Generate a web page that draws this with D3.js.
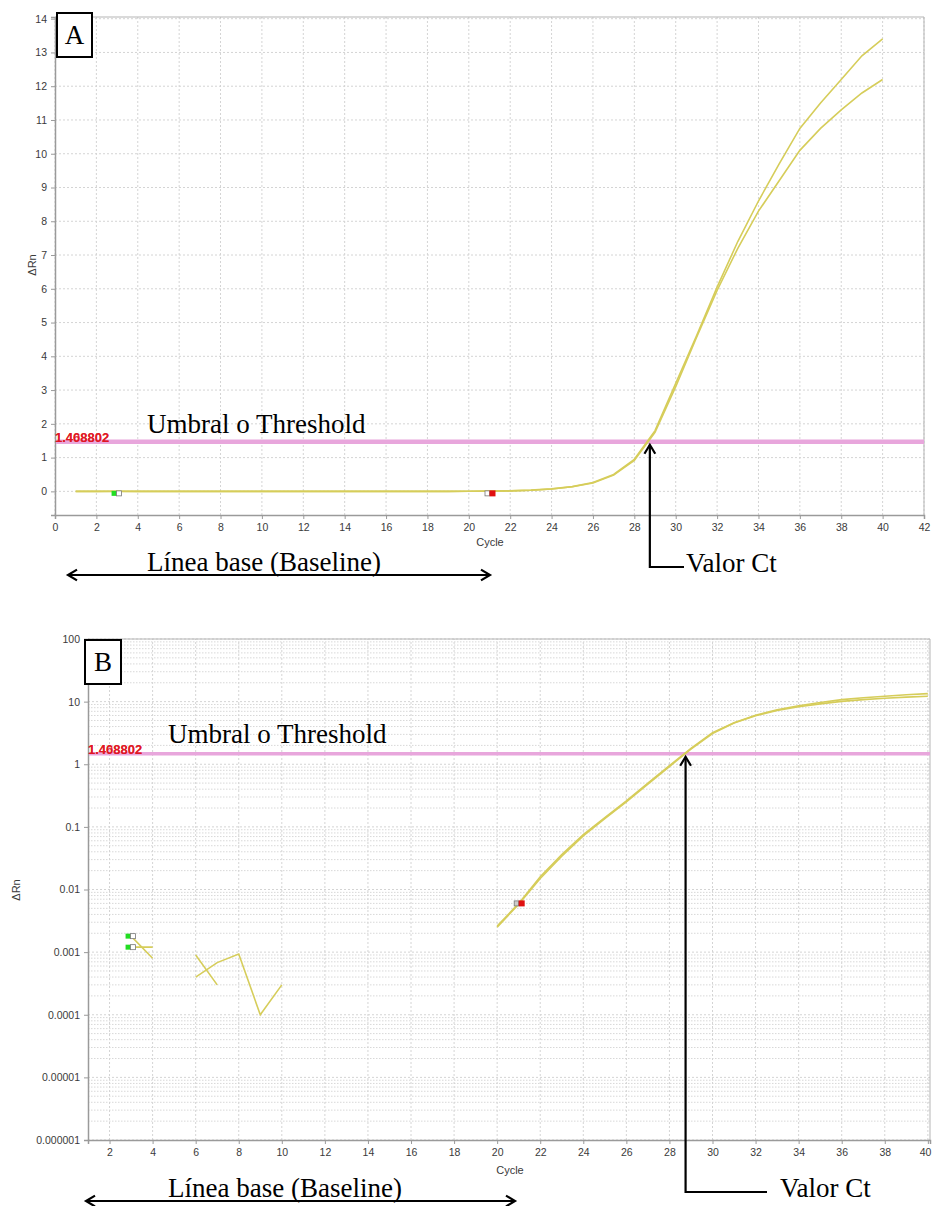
<!DOCTYPE html>
<html>
<head>
<meta charset="utf-8">
<script src="https://cdn.jsdelivr.net/npm/d3@7"></script>
<style>
  html, body { margin: 0; padding: 0; background: #fff; }
  svg { display: block; }
</style>
</head>
<body>
<svg id="chart" width="932" height="1206"></svg>
<script>
// ---------- DATA ----------
const cycles = d3.range(1, 41);
// ΔRn per cycle, well 1 (upper plateau) and well 2 (lower plateau)
const well1 = [-0.0005, -0.0003, 0.0018, 0.0008, -0.0004, 0.0009, 0.0003, -0.0002, -0.0006, -0.0003,
               -0.0004, -0.0002, -0.0005, -0.0003, -0.0002, -0.0004, -0.0003, -0.0002, -0.0001, 0.0026,
               0.006, 0.016, 0.036, 0.075, 0.14, 0.26, 0.5, 0.95, 1.8, 3.2,
               4.6, 6.05, 7.4, 8.6, 9.7, 10.75, 11.5, 12.2, 12.9, 13.4];
const well2 = [-0.0004, -0.0006, 0.0012, 0.0012, -0.0002, 0.0004, 0.00068, 0.00093, 0.0001, 0.0003,
               -0.0003, -0.0004, -0.0002, -0.0005, -0.0003, -0.0002, -0.0004, -0.0003, -0.0001, 0.0025,
               0.0058, 0.015, 0.034, 0.072, 0.135, 0.25, 0.48, 0.92, 1.75, 3.1,
               4.55, 5.95, 7.2, 8.3, 9.2, 10.1, 10.75, 11.3, 11.8, 12.2];
const threshold = 1.468802;
const thresholdLabels = ["1.468802", "1.408802"];
const baselineStart = 3;
const baselineEnd = 21;
const ctValue = 28.75;
const xTicksA = d3.range(0, 43, 2);
const yTicksA = d3.range(0, 15, 1);
const xTicksB = d3.range(2, 41, 2);
const yTicksB = [100, 10, 1, 0.1, 0.01, 0.001, 0.0001, 0.00001, 0.000001];
const yTickLabelsB = ["100", "10", "1", "0.1", "0.01", "0.001", "0.0001", "0.00001", "0.000001"];

// ---------- STYLE ----------
const curveColor = "#d6cd5a";
const threshColor = "#e8a6dc";
const gridColor = "#d4d4d4";
const axisColor = "#9a9a9a";
const tickText = "#3a3a3a";
const serif = "'Liberation Serif', 'Times New Roman', serif";
const sans = "'Liberation Sans', Arial, sans-serif";
const annotSize = 27;

const svg = d3.select("#chart");
const series = [well1, well2].map(v => cycles.map((c, i) => ({c, v: v[i]})));

function arrowHead(g, x, y, dir) {
  const s = 9;
  let d;
  if (dir === "left") d = `M${x + s},${y - s * 0.6} L${x},${y} L${x + s},${y + s * 0.6}`;
  if (dir === "right") d = `M${x - s},${y - s * 0.6} L${x},${y} L${x - s},${y + s * 0.6}`;
  if (dir === "up") d = `M${x - s * 0.6},${y + s} L${x},${y} L${x + s * 0.6},${y + s}`;
  g.append("path").attr("d", d).attr("fill", "none").attr("stroke", "#000").attr("stroke-width", 2.2);
}

function drawPanel(cfg) {
  const {x, y, xTicks, yTicks, yLabels, log, letter, letterBox, yLabelPos, xLabelPos,
         umbralPos, threshLabelPos, baseArrow, baseText, ct} = cfg;
  const g = svg.append("g");
  const [x0, x1] = x.range();
  const [y0, y1] = y.range();

  g.append("rect").attr("x", x0).attr("y", y1).attr("width", x1 - x0).attr("height", y0 - y1).attr("fill", "#fff");

  if (log) {
    const minors = [];
    for (let e = -6; e < 2; e++) for (let m = 2; m <= 9; m++) minors.push(m * Math.pow(10, e));
    g.append("g").selectAll("line").data(minors).join("line")
      .attr("x1", x0).attr("x2", x1).attr("y1", d => y(d)).attr("y2", d => y(d))
      .attr("stroke", "#d8d8d8").attr("stroke-width", 1).attr("stroke-dasharray", "1.5,1.5");
  }
  g.append("g").selectAll("line").data(xTicks).join("line")
    .attr("x1", d => x(d)).attr("x2", d => x(d)).attr("y1", y0).attr("y2", y1)
    .attr("stroke", gridColor).attr("stroke-width", 1).attr("stroke-dasharray", "2,2");
  g.append("g").selectAll("line").data(yTicks).join("line")
    .attr("x1", x0).attr("x2", x1).attr("y1", d => y(d)).attr("y2", d => y(d))
    .attr("stroke", gridColor).attr("stroke-width", 1).attr("stroke-dasharray", "2,2");

  g.append("path").attr("d", `M${x0},${y1} H${x1} V${y0}`).attr("fill", "none").attr("stroke", "#b5b5b5").attr("stroke-width", 1);

  const xAxis = g.append("g").attr("transform", `translate(0,${y0})`)
    .call(d3.axisBottom(x).tickValues(xTicks).tickSize(4).tickPadding(5).tickFormat(d3.format("d")));
  const yAxis = g.append("g").attr("transform", `translate(${x0},0)`)
    .call(d3.axisLeft(y).tickValues(yTicks).tickSize(4).tickPadding(4)
      .tickFormat((d, i) => yLabels ? yLabels[i] : d3.format("d")(d)));
  [xAxis, yAxis].forEach(a => {
    a.selectAll("path.domain").attr("stroke", axisColor).attr("stroke-width", 1.5);
    a.selectAll(".tick line").attr("stroke", axisColor);
    a.selectAll(".tick text").attr("fill", tickText).attr("font-family", sans).attr("font-size", 10.5);
  });
  // keep the right-most x label inside the page
  xAxis.selectAll(".tick text").filter(d => x(d) + 8 > 932).attr("text-anchor", "end").attr("dx", 3);

  g.append("text").attr("x", xLabelPos[0]).attr("y", xLabelPos[1]).attr("text-anchor", "middle")
    .attr("font-family", sans).attr("font-size", 11).attr("fill", tickText).text("Cycle");
  g.append("text").attr("transform", `translate(${yLabelPos[0]},${yLabelPos[1]}) rotate(-90)`)
    .attr("text-anchor", "middle").attr("font-family", sans).attr("font-size", 11).attr("fill", tickText).text("ΔRn");

  g.append("line").attr("x1", x0 + 1).attr("x2", x1).attr("y1", y(threshold)).attr("y2", y(threshold))
    .attr("stroke", threshColor).attr("stroke-width", log ? 3.5 : 4.5);
  thresholdLabels.forEach(t => {
    g.append("text").attr("x", threshLabelPos[0]).attr("y", threshLabelPos[1])
      .attr("font-family", sans).attr("font-weight", "bold").attr("font-size", 13)
      .attr("fill", "#e0141e").attr("fill-opacity", 0.85).text(t);
  });

  const line = d3.line().defined(d => !log || d.v > 0).x(d => x(d.c)).y(d => y(d.v));
  g.append("g").selectAll("path").data(series).join("path")
    .attr("d", line).attr("fill", "none").attr("stroke", curveColor).attr("stroke-width", 1.6);

  const mk = g.append("g");
  series.forEach((s, k) => {
    if (!log && k > 0) return;
    const startV = s[baselineStart - 1].v, endV = s[baselineEnd - 1].v;
    const sy = log ? y(startV) : y(0) + 2;
    const ey = log ? y(endV) : y(0) + 2;
    const sx = x(baselineStart);
    mk.append("rect").attr("x", sx - 5.5).attr("y", sy - 2.5).attr("width", 5).attr("height", 5).attr("fill", "#22dd22");
    mk.append("rect").attr("x", sx - 0.5).attr("y", sy - 2.5).attr("width", 5).attr("height", 5).attr("fill", "#fff").attr("stroke", "#777").attr("stroke-width", 0.8);
    if (k === 0) {
      const ex = x(baselineEnd);
      mk.append("rect").attr("x", ex - 4.5).attr("y", ey - 2.5).attr("width", 4.5).attr("height", 5).attr("fill", log ? "#ccc" : "#fff").attr("stroke", "#777").attr("stroke-width", 0.8);
      mk.append("rect").attr("x", ex).attr("y", ey - 3).attr("width", 6).attr("height", 6).attr("fill", "#e01010");
    }
  });

  g.append("rect").attr("x", letterBox[0]).attr("y", letterBox[1]).attr("width", letterBox[2]).attr("height", letterBox[3])
    .attr("fill", "#fff").attr("stroke", "#000").attr("stroke-width", 2);
  g.append("text").attr("x", letterBox[0] + letterBox[2] / 2).attr("y", letterBox[1] + letterBox[3] / 2 + 9)
    .attr("text-anchor", "middle").attr("font-family", serif).attr("font-size", 27).attr("fill", "#000").text(letter);

  g.append("text").attr("x", umbralPos[0]).attr("y", umbralPos[1]).attr("font-family", serif).attr("font-size", annotSize)
    .attr("fill", "#000").text("Umbral o Threshold");

  g.append("line").attr("x1", baseArrow[0]).attr("x2", baseArrow[1]).attr("y1", baseArrow[2]).attr("y2", baseArrow[2])
    .attr("stroke", "#000").attr("stroke-width", 2.2);
  arrowHead(g, baseArrow[0], baseArrow[2], "left");
  arrowHead(g, baseArrow[1], baseArrow[2], "right");
  g.append("text").attr("x", baseText[0]).attr("y", baseText[1]).attr("font-family", serif).attr("font-size", annotSize)
    .attr("fill", "#000").text("Línea base (Baseline)");

  const cx = x(ctValue), cy = y(threshold) + 3;
  g.append("path").attr("d", `M${cx},${cy} V${ct[0]} H${ct[1]}`).attr("fill", "none").attr("stroke", "#000").attr("stroke-width", 2.2);
  arrowHead(g, cx, cy, "up");
  g.append("text").attr("x", ct[2]).attr("y", ct[3]).attr("font-family", serif).attr("font-size", annotSize)
    .attr("fill", "#000").text("Valor Ct");
}

// Panel A (linear)
drawPanel({
  x: d3.scaleLinear().domain([0, 42]).range([55, 924]),
  y: d3.scaleLinear().domain([-0.7, 14.05]).range([515, 17]),
  xTicks: xTicksA, yTicks: yTicksA, yLabels: null, log: false,
  letter: "A", letterBox: [57, 13, 35, 44],
  yLabelPos: [36, 265], xLabelPos: [490, 546],
  umbralPos: [147, 433], threshLabelPos: [55, 442],
  baseArrow: [68, 490, 575], baseText: [147, 571],
  ct: [567, 684, 686, 572]
});

// Panel B (log)
drawPanel({
  x: d3.scaleLinear().domain([1, 40.1]).range([88, 930]),
  y: d3.scaleLog().domain([1e-6, 100]).range([1140, 639]),
  xTicks: xTicksB, yTicks: yTicksB, yLabels: yTickLabelsB, log: true,
  letter: "B", letterBox: [85, 640, 36, 44],
  yLabelPos: [20, 890], xLabelPos: [510, 1174],
  umbralPos: [168, 743], threshLabelPos: [88, 754],
  baseArrow: [86, 515, 1201], baseText: [168, 1197],
  ct: [1192, 767, 780, 1197]
});
</script>
</body>
</html>
